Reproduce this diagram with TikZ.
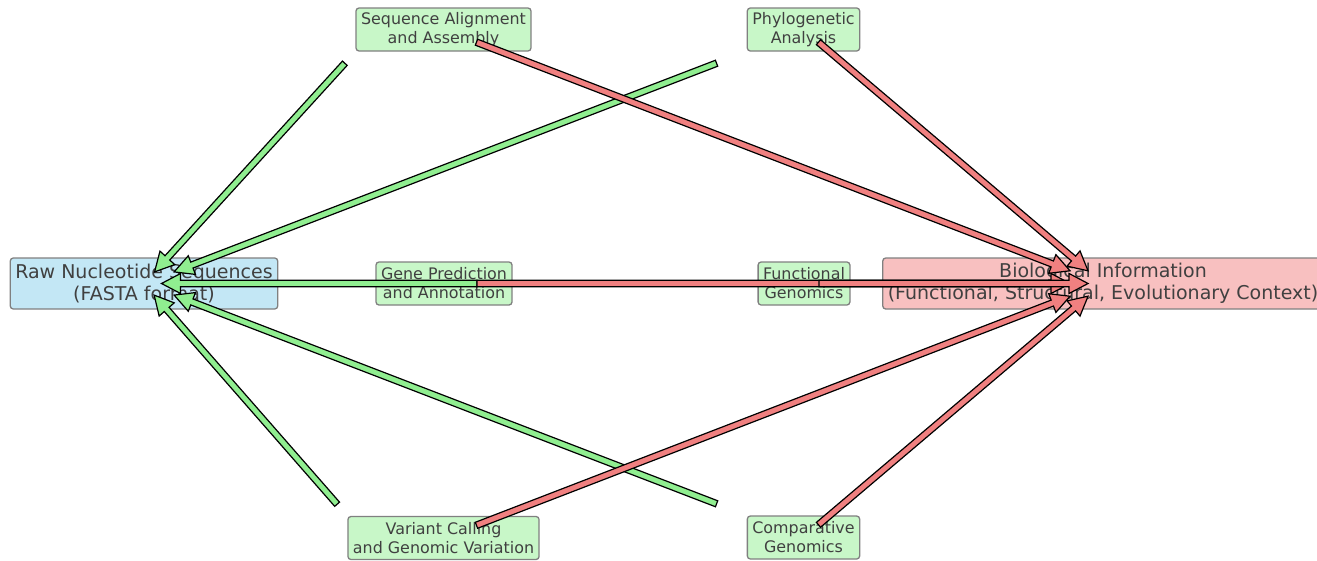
\documentclass[tikz,border=0pt]{standalone}
\usepackage{fontspec}
\setmainfont{DejaVu Sans}
\usetikzlibrary{calc}
\definecolor{txt}{RGB}{64,64,64}
\definecolor{boxedge}{RGB}{128,128,128}
\definecolor{gfill}{RGB}{200,247,200}
\definecolor{bfill}{RGB}{195,231,245}
\definecolor{rfill}{RGB}{248,192,192}
\definecolor{garrow}{RGB}{144,238,144}
\definecolor{rarrow}{RGB}{240,128,128}
\tikzset{
  procbox/.style={draw=boxedge, line width=1.3pt, rounded corners=3pt, fill=gfill,
    text=txt, align=center, inner xsep=5pt, inner ysep=0pt, minimum height=43pt,
    font=\fontsize{15.9}{19}\selectfont},
  mainbox/.style={draw=boxedge, line width=1.3pt, rounded corners=3pt,
    text=txt, align=center, inner xsep=5pt, inner ysep=0pt, minimum height=51pt,
    font=\fontsize{19}{21.5}\selectfont},
  arrowline/.style={draw=black, line width=1.2pt, line join=miter},
}
\newcommand\fancyarr[3]{%
  \coordinate (fah) at ($(#2)!19pt!(#1)$);
  \filldraw[arrowline, fill=#3]
    ($(#1)!3.2pt!90:(#2)$) -- ($(fah)!3.2pt!90:(#2)$) -- ($(fah)!10pt!90:(#2)$) --
    (#2) -- ($(fah)!10pt!-90:(#2)$) -- ($(fah)!3.2pt!-90:(#2)$) --
    ($(#1)!3.2pt!-90:(#2)$) -- cycle;}
\begin{document}
\begin{tikzpicture}[x=1pt,y=-1pt]
\useasboundingbox (0,0) rectangle (1317,560);
\clip (0,0) rectangle (1317,560);
% nodes
\node[mainbox, fill=bfill] (raw) at (144,283.5) {Raw Nucleotide Sequences\\(FASTA format)};
\node[mainbox, fill=rfill] (bio) at (1103,283.5) {Biological Information\\(Functional, Structural, Evolutionary Context)};
\node[procbox] (seq) at (443.5,29.5) {Sequence Alignment\\and Assembly};
\node[procbox] (phy) at (803.5,29.5) {Phylogenetic\\Analysis};
\node[procbox] (gene) at (444,283.5) {Gene Prediction\\and Annotation};
\node[procbox] (func) at (804,283.5) {Functional\\Genomics};
\node[procbox] (var) at (443.5,538) {Variant Calling\\and Genomic Variation};
\node[procbox] (comp) at (803.5,537.5) {Comparative\\Genomics};
\coordinate (gP) at (494.5,283.5);
% green arrow end points (5% shrink at both ends)
\foreach \n/\p in {g1/seq.south west, g2/phy.south west, g3/gP, g4/var.north west, g5/comp.north west}{
  \coordinate (\n s) at ($(\p)!0.05!(raw.center)$);
  \coordinate (\n t) at ($(raw.center)!0.05!(\p)$);
}
% red arrow end points
\foreach \n/\p in {r1/seq, r2/phy, r3/gene, r4/func, r5/var, r6/comp}{
  \coordinate (\n s) at ($(\p.center)!0.05!(bio.center)$);
  \coordinate (\n t) at ($(bio.center)!0.05!(\p.center)$);
}
% green arrows
\fancyarr{g1s}{g1t}{garrow}
\fancyarr{g2s}{g2t}{garrow}
\fancyarr{g3s}{g3t}{garrow}
\fancyarr{g4s}{g4t}{garrow}
\fancyarr{g5s}{g5t}{garrow}
% red arrows
\fancyarr{r1s}{r1t}{rarrow}
\fancyarr{r2s}{r2t}{rarrow}
\fancyarr{r3s}{r3t}{rarrow}
\fancyarr{r4s}{r4t}{rarrow}
\fancyarr{r5s}{r5t}{rarrow}
\fancyarr{r6s}{r6t}{rarrow}
\end{tikzpicture}
\end{document}
